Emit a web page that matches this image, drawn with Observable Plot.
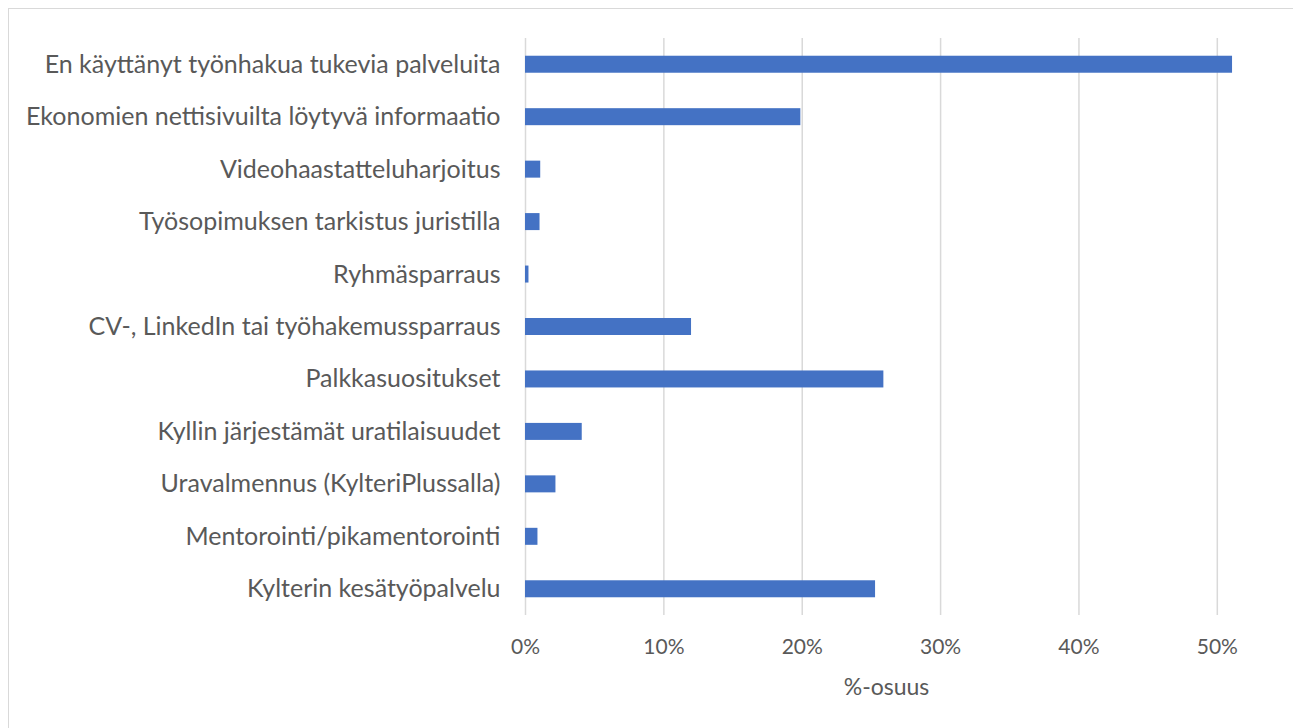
<!DOCTYPE html>
<html><head><meta charset="utf-8">
<script src="https://cdn.jsdelivr.net/npm/d3@7"></script>
<script src="https://cdn.jsdelivr.net/npm/@observablehq/plot@0.6"></script>
<style>
body{margin:0;background:#fff;}
#frame{position:absolute;left:8px;top:8px;width:1400px;height:800px;border:1.5px solid #d9d9d9;box-sizing:border-box;}
#chart{position:absolute;left:0;top:0;}
</style></head><body>
<div id="frame"></div><div id="chart"></div>
<script>
const categories = [
  "En käyttänyt työnhakua tukevia palveluita",
  "Ekonomien nettisivuilta löytyvä informaatio",
  "Videohaastatteluharjoitus",
  "Työsopimuksen tarkistus juristilla",
  "Ryhmäsparraus",
  "CV-, LinkedIn tai työhakemussparraus",
  "Palkkasuositukset",
  "Kyllin järjestämät uratilaisuudet",
  "Uravalmennus (KylteriPlussalla)",
  "Mentorointi/pikamentorointi",
  "Kylterin kesätyöpalvelu"
];
const values = [0.511, 0.199, 0.011, 0.0105, 0.0025, 0.12, 0.259, 0.041, 0.022, 0.009, 0.253];
const xTicks = [0, 0.1, 0.2, 0.3, 0.4, 0.5];
const xTickLabels = ["0%", "10%", "20%", "30%", "40%", "50%"];
const xTitle = "%-osuus";

const data = categories.map((c, i) => ({category: c, value: values[i]}));
const fmt = d => xTickLabels[xTicks.findIndex(t => Math.abs(t - d) < 1e-9)];

const plot = Plot.plot({
  width: 1293, height: 728,
  marginLeft: 525, marginRight: 7, marginTop: 38, marginBottom: 113,
  style: {fontFamily: "Lato, sans-serif", fontSize: "24px", color: "#595959", background: "transparent"},
  x: {domain: [0, 0.55]},
  y: {domain: categories, paddingInner: 0.676, paddingOuter: 0.338, round: false},
  marks: [
    Plot.gridX(xTicks, {stroke: "#d9d9d9", strokeOpacity: 1, strokeWidth: 1.5}),
    Plot.barX(data, {x: "value", y: "category", fill: "#4472C4"}),
    Plot.axisX({ticks: xTicks, tickFormat: fmt, tickSize: 0, tickPadding: 24, label: null, fill: "#595959", fontSize: 21}),
    Plot.axisY({tickSize: 0, tickPadding: 25, label: null, fill: "#595959", fontSize: 25}),
    Plot.text([xTitle], {frameAnchor: "bottom-left", dx: 361, dy: 72, text: d => d, textAnchor: "middle", lineAnchor: "middle", fill: "#595959", fontSize: 23})
  ]
});
document.getElementById("chart").appendChild(plot);
</script>
</body></html>
